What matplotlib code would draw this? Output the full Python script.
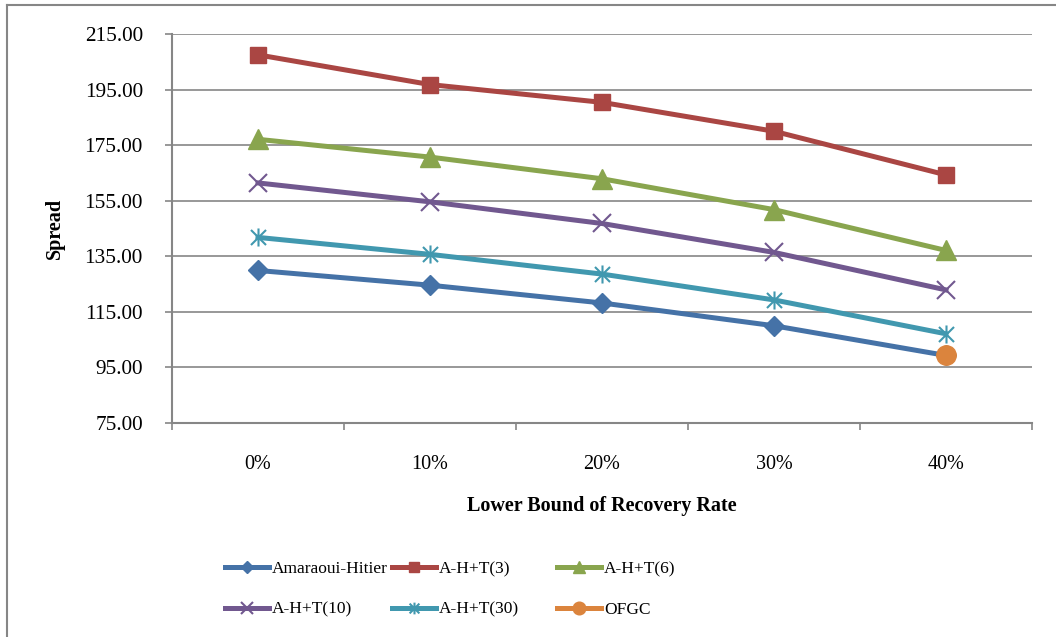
import matplotlib
matplotlib.use("Agg")
import matplotlib.pyplot as plt
from matplotlib.path import Path
from matplotlib.lines import Line2D

categories = ["0%", "10%", "20%", "30%", "40%"]
amaraoui_hitier = [129.9, 124.6, 118.2, 110.0, 99.3]
aht3 = [207.5, 196.8, 190.4, 180.0, 164.3]
aht6 = [177.1, 170.7, 162.9, 151.8, 137.1]
aht10 = [161.4, 154.6, 146.8, 136.4, 122.9]
aht30 = [141.8, 135.7, 128.6, 119.3, 107.1]
ofgc_x = ["40%"]
ofgc = [99.3]

y_ticks = [75, 95, 115, 135, 155, 175, 195, 215]

plt.rcParams['font.family'] = ['Liberation Serif', 'DejaVu Serif']

fig = plt.figure(figsize=(10.56, 6.37), dpi=100)
ax = fig.add_axes([172/1056, 1-423/637, (1032-172)/1056, (423-34)/637])

gray = '#868686'
asterisk = Path([(-0.5, -0.5), (0.5, 0.5), (-0.5, 0.5), (0.5, -0.5), (0, -0.6), (0, 0.6)],
                [Path.MOVETO, Path.LINETO, Path.MOVETO, Path.LINETO, Path.MOVETO, Path.LINETO])

xs = list(range(len(categories)))
lw = 3.6
series = [
    ("Amaraoui-Hitier", amaraoui_hitier, '#4572A7', 'D', 10, {}),
    ("A-H+T(3)", aht3, '#AA4643', 's', 11, {}),
    ("A-H+T(6)", aht6, '#89A54E', '^', 14, {}),
    ("A-H+T(10)", aht10, '#71588F', 'x', 13, {'markeredgewidth': 1.5}),
    ("A-H+T(30)", aht30, '#4198AF', asterisk, 13, {'markeredgewidth': 1.5, 'markerfacecolor': 'none'}),
]
handles = []
for name, vals, col, mk, ms, kw in series:
    h, = ax.plot(xs, vals, color=col, lw=lw, marker=mk, markersize=ms,
                 markeredgecolor=col, markerfacecolor=kw.pop('markerfacecolor', col),
                 label=name, zorder=3, **kw)
    handles.append(h)
ofgc_pos = [categories.index(c) for c in ofgc_x]
h, = ax.plot(ofgc_pos, ofgc, color='#DB843D', lw=lw, marker='o', markersize=14,
             label="OFGC", zorder=4)
handles.append(h)

ax.set_xlim(-0.5, len(categories) - 0.5)
ax.set_ylim(75, 215)
ax.set_yticks(y_ticks)
ax.set_yticklabels([f"{v:.2f}" for v in y_ticks])
ax.set_xticks([i - 0.5 for i in range(len(categories) + 1)])
ax.set_xticklabels([])
ax.set_xticks(xs, minor=True)
ax.set_xticklabels(categories, minor=True)
ax.tick_params(axis='x', which='minor', length=0, pad=23, labelsize=14.5)
ax.tick_params(axis='x', which='major', length=5, width=1.2, color=gray, direction='out')
ax.tick_params(axis='y', length=5, width=1.2, color=gray, direction='out', pad=16, labelsize=15.3)
ax.grid(axis='y', color=gray, lw=1.2, zorder=0)
ax.set_axisbelow(True)
for s in ['top', 'right']:
    ax.spines[s].set_visible(False)
for s in ['left', 'bottom']:
    ax.spines[s].set_color(gray)
    ax.spines[s].set_linewidth(1.5)

ax.set_ylabel("Spread", fontsize=14.5, fontweight='bold', labelpad=14)
ax.set_xlabel("Lower Bound of Recovery Rate", fontsize=14.5, fontweight='bold', labelpad=16)

# legend: three columns, each two rows, row-major order
col_x = [225/1056, 392/1056, 557/1056]
for ci in range(3):
    hs = [handles[ci], handles[ci + 3]]
    leg = fig.legend(hs, [x.get_label() for x in hs], loc='upper left',
                     bbox_to_anchor=(col_x[ci], 1 - 561/637), frameon=False,
                     borderpad=0, borderaxespad=0, handlelength=2.55, handletextpad=0.15,
                     labelspacing=1.4, fontsize=12.5, markerscale=0.65)

# outer frame (top and left visible)
fig.add_artist(Line2D([7/1056, 7/1056], [0, 1 - 5/637], transform=fig.transFigure, color=gray, lw=1.5))
fig.add_artist(Line2D([7/1056, 1], [1 - 5/637, 1 - 5/637], transform=fig.transFigure, color=gray, lw=1.5))

fig.savefig("out.png", dpi=100)
